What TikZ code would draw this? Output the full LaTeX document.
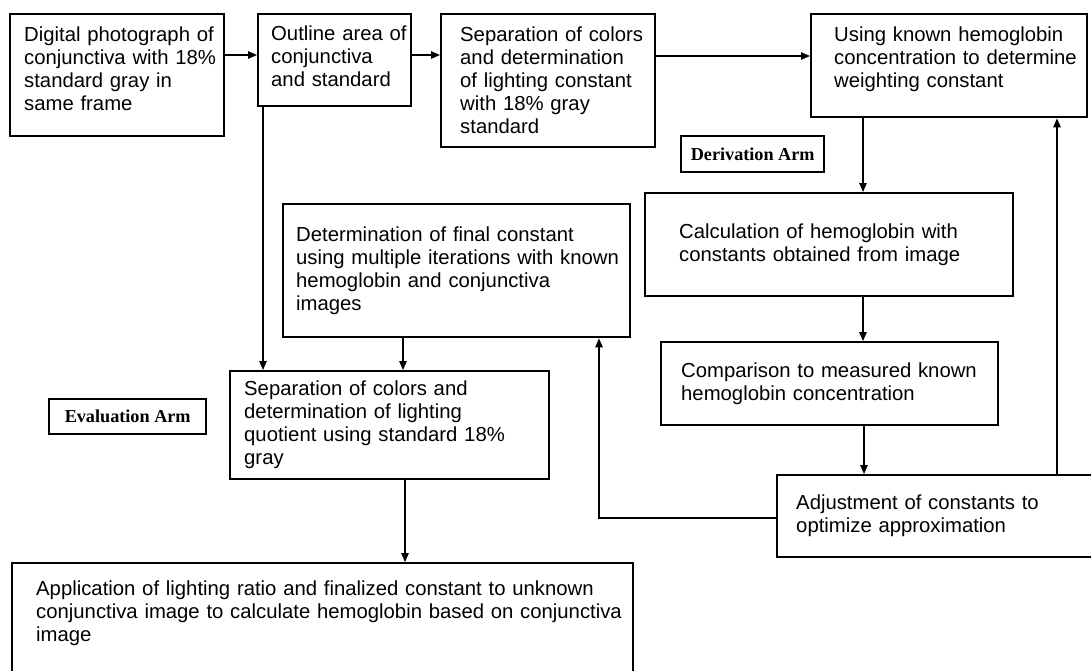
\documentclass[tikz,border=0pt]{standalone}
\usepackage{fontspec}
\setmainfont{Liberation Sans}
\newfontfamily\armserif{Liberation Serif}
\usetikzlibrary{arrows.meta}
\newcommand{\boxfont}{\fontsize{20.3}{23}\selectfont}
\newcommand{\armfont}{\armserif\bfseries\fontsize{18.2}{20}\selectfont}
\begin{document}
\begin{tikzpicture}[x=1pt,y=-1pt,
  stepbox/.style={draw,line width=2.4pt,align=left,font=\boxfont,anchor=north west,inner xsep=1pt,inner ysep=1pt,
    execute at begin node={\rightskip=0pt plus 1fil minus 60pt}},
  armbox/.style={draw,line width=2.4pt,font=\armfont,anchor=north west,inner sep=0pt},
  flow/.style={line width=1.2pt,-{Triangle[length=9pt,width=7.5pt]}}]
  \useasboundingbox (0,0) rectangle (1091,670);
  \node[stepbox,minimum width=214,minimum height=122,text width=186] (photo) at (9,13)
    {Digital photograph of\\conjunctiva with 18\%\\standard gray in\\same frame\rule[-14pt]{0pt}{0pt}};
  \node[stepbox,minimum width=153,minimum height=92,text width=127] (outline) at (257,13)
    {Outline area of\\conjunctiva\\and standard\rule[-8pt]{0pt}{0pt}};
  \node[stepbox,minimum width=214,minimum height=133,text width=176] (sepstd) at (440,13)
    {Separation of colors\\and determination\\of lighting constant\\with 18\% gray\\standard};
  \node[stepbox,minimum width=276,minimum height=103,text width=230] (weight) at (810,13)
    {Using known hemoglobin\\concentration to determine\\weighting constant\rule[-18pt]{0pt}{0pt}};
  \node[armbox,minimum width=143,minimum height=36] (derivarm) at (680,135) {Derivation Arm};
  \node[stepbox,minimum width=368,minimum height=103,text width=300] (calc) at (644,192)
    {Calculation of hemoglobin with\\constants obtained from image};
  \node[stepbox,minimum width=347,minimum height=133,text width=321] (final) at (282,203)
    {Determination of final constant\\using multiple iterations with known\\hemoglobin and conjunctiva\\images};
  \node[stepbox,minimum width=319,minimum height=108,text width=291] (sepquot) at (229,370)
    {Separation of colors and\\determination of lighting\\quotient using standard 18\%\\gray};
  \node[armbox,minimum width=157,minimum height=35] (evalarm) at (48,398) {Evaluation Arm};
  \node[stepbox,minimum width=337,minimum height=83,text width=297] (compare) at (660,341)
    {Comparison to measured known\\hemoglobin concentration};
  \node[stepbox,minimum width=330,minimum height=82,text width=292] (adjust) at (776,474)
    {Adjustment of constants to\\optimize approximation};
  \node[stepbox,minimum width=621,inner ysep=18pt,text width=573] (apply) at (11,562)
    {Application of lighting ratio and finalized constant to unknown\\conjunctiva image to calculate hemoglobin based on conjunctiva\\image\rule[-40pt]{0pt}{0pt}};

  \draw[flow] (photo.east |- 0,55) -- (outline.west |- 0,55);
  \draw[flow] (outline.east |- 0,55) -- (sepstd.west |- 0,55);
  \draw[flow] (sepstd.east |- 0,56) -- (weight.west |- 0,56);
  \draw[flow] (outline.south -| 263,0) -- (sepquot.north -| 263,0);
  \draw[flow] (final.south -| 403,0) -- (sepquot.north -| 403,0);
  \draw[flow] (sepquot.south -| 405,0) -- (apply.north -| 405,0);
  \draw[flow] (weight.south -| 863,0) -- (calc.north -| 863,0);
  \draw[flow] (calc.south -| 863,0) -- (compare.north -| 863,0);
  \draw[flow] (compare.south -| 864,0) -- (adjust.north -| 864,0);
  \draw[flow] (adjust.north -| 1057,0) -- (weight.south -| 1057,0);
  \draw[flow] (adjust.west |- 0,518) -| (final.south -| 599,0);
\end{tikzpicture}
\end{document}
